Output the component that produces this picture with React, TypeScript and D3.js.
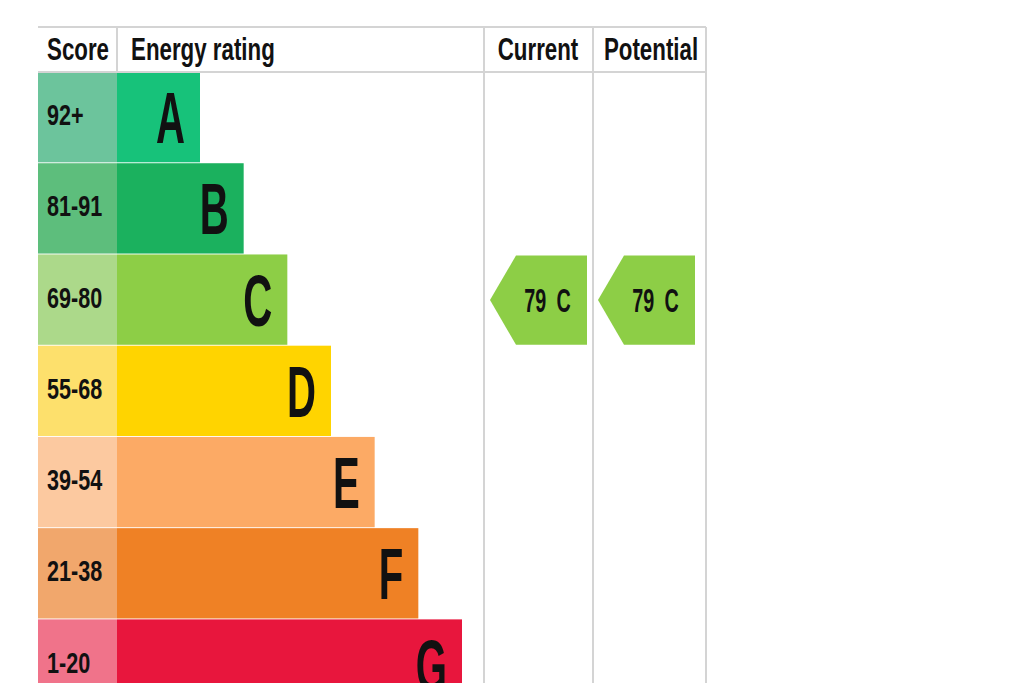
import React from "react";
import * as d3 from "d3";

const bands = ["A", "B", "C", "D", "E", "F", "G"];
const scoreRanges = ["92+", "81-91", "69-80", "55-68", "39-54", "21-38", "1-20"];
const barColors = ["#17c27a", "#1bb15e", "#8dce46", "#ffd400", "#fcaa65", "#ef8125", "#e8163d"];
const scoreColors = ["#6cc49c", "#5dbe7c", "#acd98a", "#fde06c", "#fcc9a0", "#f1a76c", "#f0738a"];
const headers = ["Score", "Energy rating", "Current", "Potential"];
const currentValue = 79;
const currentBand = "C";
const potentialValue = 79;
const potentialBand = "C";

const W = 1024;
const H = 683;
const FONT = "'Liberation Sans', Arial, sans-serif";
const GRID = "#d4d4d4";
const INK = "#111";

const colX = { left: 38, score: 117, current: 484, potential: 593, right: 706 };
const headerTop = 27;
const headerBottom = 72;

const y = d3.scaleBand<string>().domain(bands).range([headerBottom, headerBottom + 7 * 91.1]).paddingInner(0.01);
const barEnd = d3.scaleLinear().domain([0, bands.length - 1]).range([200, 462]);

function SText({ x, y, sx, size, anchor = "start", children, ws }: any) {
  return (
    <g transform={`translate(${x},${y}) scale(${sx},1)`}>
      <text x={0} y={0} fontFamily={FONT} fontWeight="bold" fontSize={size} fill={INK} textAnchor={anchor} wordSpacing={ws}>
        {children}
      </text>
    </g>
  );
}

function Arrow({ left, band, value }: { left: number; band: string; value: number }) {
  const top = y(band)! + 1;
  const h = y.bandwidth() - 1;
  const w = 97;
  const tip = 26;
  const path = d3.path();
  path.moveTo(left, top + h / 2);
  path.lineTo(left + tip, top);
  path.lineTo(left + w, top);
  path.lineTo(left + w, top + h);
  path.lineTo(left + tip, top + h);
  path.closePath();
  const color = barColors[bands.indexOf(band)];
  const cx = left + tip + (w - tip) / 2 - 4;
  const cy = top + h / 2 + 12;
  return (
    <g>
      <path d={path.toString()} fill={color} />
      <SText x={cx} y={cy} sx={0.58} size={34} anchor="middle" ws={8}>
        {`${value} ${band}`}
      </SText>
    </g>
  );
}

export default function App() {
  const hdrY = 60;
  return (
    <svg width={W} height={H} style={{ position: "absolute", left: 0, top: 0, background: "#fff" }}>
      <rect x={0} y={0} width={W} height={H} fill="#fff" />
      {bands.map((b, i) => (
        <g key={b}>
          <rect x={colX.left} y={y(b)} width={colX.score - colX.left} height={y.bandwidth()} fill={scoreColors[i]} />
          <rect x={colX.score} y={y(b)} width={barEnd(i) - colX.score} height={y.bandwidth()} fill={barColors[i]} />
          <SText x={47} y={y(b)! + y.bandwidth() / 2 + 8} sx={0.72} size={30}>
            {scoreRanges[i]}
          </SText>
          <SText x={barEnd(i) - 15} y={y(b)! + y.bandwidth() / 2 + 26} sx={0.55} size={73} anchor="end">
            {b}
          </SText>
        </g>
      ))}
      {/* grid */}
      <line x1={colX.left} x2={colX.right} y1={headerTop} y2={headerTop} stroke={GRID} strokeWidth={2} />
      <line x1={colX.left} x2={colX.right} y1={headerBottom} y2={headerBottom} stroke={GRID} strokeWidth={2} />
      <line x1={colX.score} x2={colX.score} y1={headerTop} y2={headerBottom} stroke={GRID} strokeWidth={2} />
      {[colX.current, colX.potential, colX.right].map((x) => (
        <line key={x} x1={x} x2={x} y1={headerTop} y2={H} stroke={GRID} strokeWidth={2} />
      ))}
      <SText x={47} y={hdrY} sx={0.72} size={31}>{headers[0]}</SText>
      <SText x={131} y={hdrY} sx={0.72} size={31}>{headers[1]}</SText>
      <SText x={538} y={hdrY} sx={0.72} size={31} anchor="middle">{headers[2]}</SText>
      <SText x={651} y={hdrY} sx={0.72} size={31} anchor="middle">{headers[3]}</SText>
      <Arrow left={colX.current + 6} band={currentBand} value={currentValue} />
      <Arrow left={colX.potential + 5} band={potentialBand} value={potentialValue} />
    </svg>
  );
}
